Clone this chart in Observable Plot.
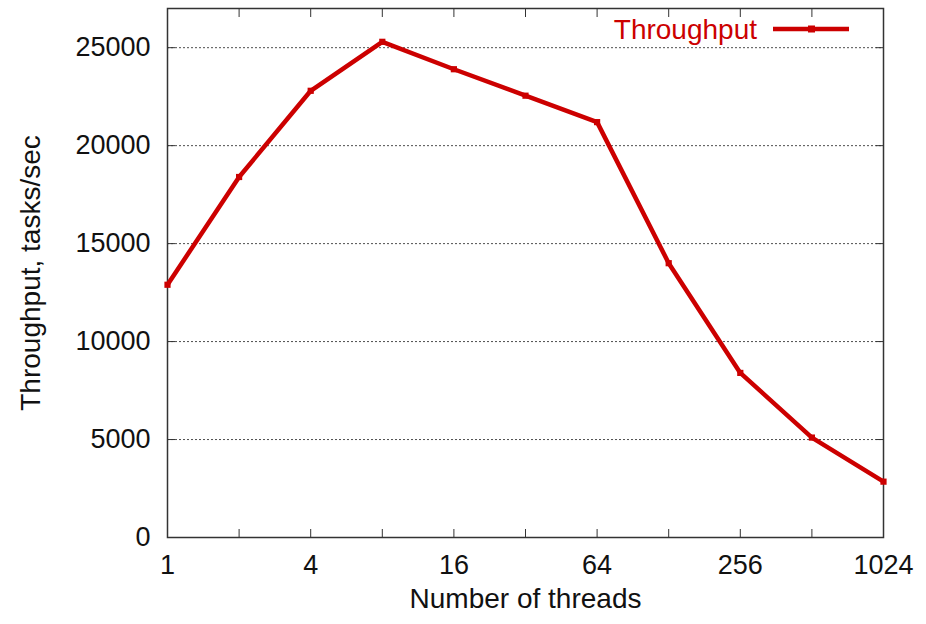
<!DOCTYPE html>
<html>
<head>
<meta charset="utf-8">
<script src="https://cdn.jsdelivr.net/npm/d3@7"></script>
<script src="https://cdn.jsdelivr.net/npm/@observablehq/plot@0.6"></script>
<style>
  html, body { margin: 0; padding: 0; background: #fff; }
  svg text { font-family: "Liberation Sans", Arial, sans-serif; }
</style>
</head>
<body>
<div id="chart"></div>
<script>
const threads = [1, 2, 4, 8, 16, 32, 64, 128, 256, 512, 1024];
const throughput = [12900, 18400, 22800, 25300, 23900, 22550, 21200, 14000, 8400, 5100, 2850];
const xLabelTicks = [1, 4, 16, 64, 256, 1024];
const xAllTicks = [2, 4, 8, 16, 32, 64, 128, 256, 512];
const yTicks = [0, 5000, 10000, 15000, 20000, 25000];
const yGrid = [5000, 10000, 15000, 20000, 25000];
const seriesName = "Throughput";
const xTitle = "Number of threads";
const yTitle = "Throughput, tasks/sec";

const data = threads.map((t, i) => ({ threads: t, value: throughput[i] }));
const red = "#cc0000";
const tickFont = { fontSize: 27, fill: "#111" };
const titleFont = { fontSize: 28, fill: "#111" };

const legend = (index, scales, values, dims) => {
  const right = dims.width - dims.marginRight;
  const y = dims.marginTop + 21;
  const g = d3.create("svg:g");
  g.append("text")
    .attr("x", right - 126).attr("y", y)
    .attr("text-anchor", "end").attr("dominant-baseline", "central")
    .attr("fill", red).attr("font-size", 28)
    .text(seriesName);
  g.append("line")
    .attr("x1", right - 110).attr("x2", right - 34)
    .attr("y1", y).attr("y2", y)
    .attr("stroke", red).attr("stroke-width", 4.5);
  g.append("rect")
    .attr("x", right - 75).attr("y", y - 3.5).attr("width", 7).attr("height", 7).attr("fill", red);
  return g.node();
};

const chart = Plot.plot({
  width: 926,
  height: 624,
  marginLeft: 167,
  marginRight: 43,
  marginTop: 8,
  marginBottom: 87,
  style: { fontFamily: "Liberation Sans, Arial, sans-serif", background: "#fff" },
  x: { type: "log", base: 2, domain: [1, 1024] },
  y: { domain: [0, 27000] },
  marks: [
    Plot.gridY(yGrid, { stroke: "#222", strokeOpacity: 0.8, strokeDasharray: "2,2", strokeWidth: 1 }),
    Plot.axisX(xAllTicks, { anchor: "bottom", tickSize: -8, text: null, stroke: "#333", label: null }),
    Plot.axisX(xAllTicks, { anchor: "top", tickSize: -8, text: null, stroke: "#333", label: null }),
    Plot.axisY(yGrid, { anchor: "left", tickSize: -8, text: null, stroke: "#333", label: null }),
    Plot.axisY(yGrid, { anchor: "right", tickSize: -8, text: null, stroke: "#333", label: null }),
    Plot.text(xLabelTicks, { x: d => d, frameAnchor: "bottom", dy: 27.5, text: d => String(d), textAnchor: "middle", lineAnchor: "middle", ...tickFont }),
    Plot.text(yTicks, { y: d => d, frameAnchor: "left", dx: -17, text: d => String(d), textAnchor: "end", lineAnchor: "middle", ...tickFont }),
    Plot.frame({ stroke: "#333", strokeWidth: 1.5 }),
    Plot.line(data, { x: "threads", y: "value", stroke: red, strokeWidth: 4.5, strokeLinejoin: "round" }),
    Plot.dot(data, { x: "threads", y: "value", r: 3.5, fill: red, symbol: "square" }),
    Plot.text([xTitle], { frameAnchor: "bottom", dy: 70, textAnchor: "middle", ...titleFont }),
    Plot.text([yTitle], { frameAnchor: "left", dx: -136, rotate: -90, textAnchor: "middle", ...titleFont }),
    legend
  ]
});
document.getElementById("chart").append(chart);
</script>
</body>
</html>
